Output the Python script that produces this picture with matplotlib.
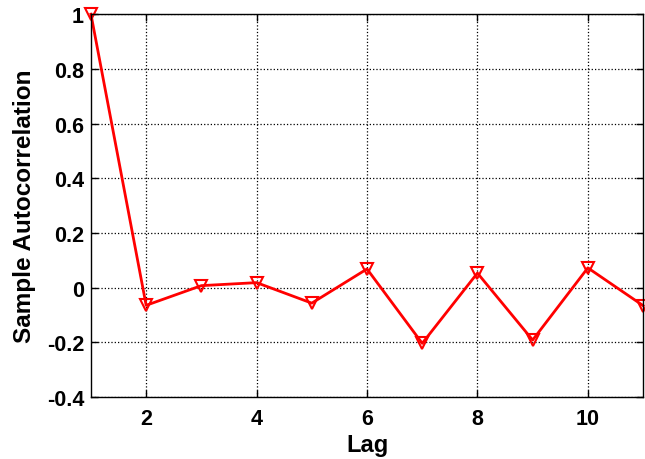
import numpy as np
import matplotlib
matplotlib.use("Agg")
import matplotlib.pyplot as plt

# sample autocorrelation values
lags = [1, 2, 3, 4, 5, 6, 7, 8, 9, 10, 11]
acf = [1.0, -0.065, 0.007, 0.018, -0.057, 0.068, -0.204, 0.053, -0.192, 0.072, -0.066]

xticks = [2, 4, 6, 8, 10]
yticks = [-0.4, -0.2, 0, 0.2, 0.4, 0.6, 0.8, 1]
ytick_labels = ['-0.4', '-0.2', '0', '0.2', '0.4', '0.6', '0.8', '1']

plt.rcParams['font.family'] = ['Liberation Sans', 'DejaVu Sans']
plt.rcParams['font.weight'] = 'bold'

fig = plt.figure(figsize=(6.45, 4.6), dpi=100)
ax = fig.add_axes([0.141, 0.135, 0.856, 0.832])

ax.plot(lags, acf, color='red', linewidth=2, marker='v', markersize=9,
        markerfacecolor='none', markeredgecolor='red', markeredgewidth=1.5, clip_on=False)

ax.set_xlim(1, 11)
ax.set_ylim(-0.4, 1)
ax.set_xticks(xticks)
ax.set_yticks(yticks)
ax.set_yticklabels(ytick_labels)
ax.tick_params(direction='in', top=True, right=True, labelsize=15.5, length=5, width=1)
ax.tick_params(axis='x', pad=8)
ax.tick_params(axis='y', pad=5)
ax.grid(True, color='black', linestyle=':', linewidth=0.9)
for s in ax.spines.values():
    s.set_linewidth(1)

ax.set_xlabel('Lag', fontsize=17, fontweight='bold', labelpad=3)
ax.set_ylabel('Sample Autocorrelation', fontsize=17.5, fontweight='bold', labelpad=8)

fig.savefig('out.png', dpi=100)
